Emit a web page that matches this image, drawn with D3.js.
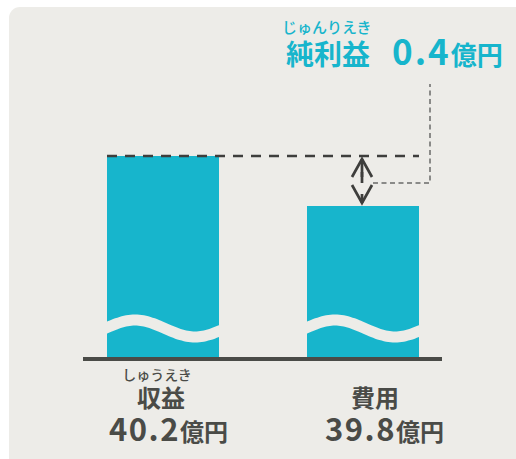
<!DOCTYPE html>
<html>
<head>
<meta charset="utf-8">
<script src="https://cdn.jsdelivr.net/npm/d3@7"></script>
<style>
  html, body { margin: 0; padding: 0; background: #ffffff; }
  svg text { font-family: "Noto Sans CJK JP", "Noto Sans", sans-serif; }
</style>
</head>
<body>
<svg id="chart"></svg>
<script>
// chart values
const categories = ['収益', '費用'];
const rubies = ['しゅうえき', ''];
const values = [40.2, 39.8];
const valueLabels = ['40.2', '39.8'];
const unit = '億円';
const netTitle = '純利益';
const netRuby = 'じゅんりえき';
const netValue = '0.4';

const width = 516;
const height = 459;
const teal = '#17b5cc';
const ink = '#4a4b47';
const bg = '#edece8';

const svg = d3.select('#chart')
    .attr('width', width)
    .attr('height', height);

// background panel
svg.append('rect')
    .attr('x', 9).attr('y', 7)
    .attr('width', width + 20).attr('height', height + 20)
    .attr('rx', 11)
    .attr('fill', bg);

// scales (broken axis: bars don't start from zero)
const baseline = 357;
const x = d3.scaleBand()
    .domain(categories)
    .range([63, 463])
    .paddingInner(0.44)
    .paddingOuter(0.22);

const y = d3.scaleLinear()
    .domain([38.592, 40.2])
    .range([baseline, 156]);

const bw = x.bandwidth();

// clip paths for each bar so the wave stays inside
const defs = svg.append('defs');
categories.forEach((c, i) => {
    defs.append('clipPath').attr('id', 'clip' + i)
      .append('rect')
        .attr('x', x(c)).attr('y', y(values[i]))
        .attr('width', bw).attr('height', baseline - y(values[i]));
});

// bars
svg.selectAll('rect.bar')
    .data(values)
    .enter()
    .append('rect')
    .attr('class', 'bar')
    .attr('x', (d, i) => x(categories[i]))
    .attr('y', d => y(d))
    .attr('width', bw)
    .attr('height', d => baseline - y(d))
    .attr('fill', teal);

// wave "break" marks
const wave = d3.line().curve(d3.curveBasis);
categories.forEach((c, i) => {
    const x0 = x(c);
    const pts = d3.range(-10, bw + 12, 4).map(t => [x0 + t, 328.5 - 8.5 * Math.sin(2 * Math.PI * (t + 2) / 120)]);
    svg.append('path')
        .attr('d', wave(pts))
        .attr('fill', 'none')
        .attr('stroke', bg)
        .attr('stroke-width', 11)
        .attr('clip-path', 'url(#clip' + i + ')');
});

// baseline
svg.append('line')
    .attr('x1', 83).attr('x2', 442)
    .attr('y1', baseline + 2).attr('y2', baseline + 2)
    .attr('stroke', ink)
    .attr('stroke-width', 4);

// dashed reference line at revenue level
const yTop = y(values[0]);
const yLow = y(values[1]);
svg.append('line')
    .attr('x1', x(categories[0])).attr('x2', x(categories[1]) + bw)
    .attr('y1', yTop).attr('y2', yTop)
    .attr('stroke', '#3e3e3c')
    .attr('stroke-width', 2.7)
    .attr('stroke-dasharray', '10,8');

// double arrow showing the difference
const ax = x(categories[1]) + 55;
const arrow = svg.append('g')
    .attr('fill', 'none')
    .attr('stroke', '#3e3e3c')
    .attr('stroke-width', 2.7);
arrow.append('path')
    .attr('d', `M${ax - 10},${yTop + 21} L${ax},${yTop + 3} L${ax + 10},${yTop + 21}`);
arrow.append('line')
    .attr('x1', ax).attr('x2', ax)
    .attr('y1', yTop + 3).attr('y2', yTop + 21);
arrow.append('line')
    .attr('x1', ax).attr('x2', ax)
    .attr('y1', yTop + 16).attr('y2', yTop + 27);
arrow.append('path')
    .attr('d', `M${ax - 10},${yLow - 21} L${ax},${yLow - 3} L${ax + 10},${yLow - 21}`);
arrow.append('line')
    .attr('x1', ax).attr('x2', ax)
    .attr('y1', yLow - 3).attr('y2', yLow - 12);

// connector to net profit label
const yMid = (yTop + yLow) / 2 + 2;
svg.append('path')
    .attr('d', `M${ax + 11},${yMid} H430 V84`)
    .attr('fill', 'none')
    .attr('stroke', '#8a8a88')
    .attr('stroke-width', 2)
    .attr('stroke-dasharray', '5,3.5');

// net profit label
svg.append('text')
    .attr('x', 282).attr('y', 33)
    .attr('font-size', 15)
    .attr('font-weight', 500)
    .attr('fill', teal)
    .text(netRuby);

svg.append('text')
    .attr('x', 286).attr('y', 65)
    .attr('font-size', 28)
    .attr('font-weight', 700)
    .attr('fill', teal)
    .text(netTitle);

const nv = svg.append('text')
    .attr('x', 392).attr('y', 65)
    .attr('font-weight', 700)
    .attr('fill', teal);
nv.append('tspan').attr('font-size', 35).attr('letter-spacing', 2).text(netValue);
nv.append('tspan').attr('font-size', 26).text(unit);

// category labels under bars
const labelShift = [-2, 12];
const valueStart = [109, 325];
categories.forEach((c, i) => {
    const cx = x(c) + bw / 2 + labelShift[i];
    if (rubies[i]) {
        svg.append('text')
            .attr('x', cx - 4).attr('y', 380)
            .attr('text-anchor', 'middle')
            .attr('font-size', 14)
            .attr('font-weight', 500)
            .attr('fill', ink)
            .text(rubies[i]);
    }
    svg.append('text')
        .attr('x', cx).attr('y', 407)
        .attr('text-anchor', 'middle')
        .attr('font-size', 24)
        .attr('font-weight', 700)
        .attr('fill', ink)
        .text(c);

    const t = svg.append('text')
        .attr('x', valueStart[i]).attr('y', 441)
        .attr('font-weight', 700)
        .attr('fill', ink);
    t.append('tspan').attr('font-size', 31).attr('letter-spacing', 1.5).text(valueLabels[i]);
    t.append('tspan').attr('font-size', 24).text(unit);
});
</script>
</body>
</html>
